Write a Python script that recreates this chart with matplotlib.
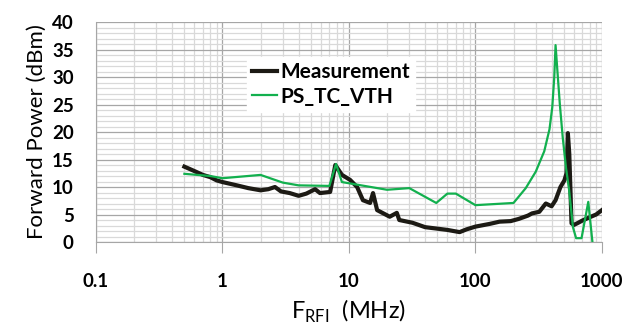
import numpy as np
import matplotlib.pyplot as plt
from matplotlib.ticker import LogLocator, MultipleLocator, FixedLocator, FixedFormatter

# measured forward power (MHz, dBm)
meas_f = [0.5, 0.6, 0.7, 0.8, 0.9, 1.0, 1.3, 1.6, 2.0, 2.3, 2.6, 2.9, 3.4, 4.0, 4.6,
          5.4, 5.9, 7.1, 7.8, 8.8, 10.2, 11.6, 12.9, 14.7, 15.5, 16.7, 21, 23.9, 25,
          31.8, 40, 60, 75, 85, 100, 130, 155, 190, 220, 260, 280, 320, 360, 400,
          430, 470, 505, 525, 538, 552, 575, 600, 650, 700, 800, 900, 1000]
meas_p = [13.7, 12.9, 12.2, 11.8, 11.2, 10.9, 10.3, 9.8, 9.4, 9.6, 10.0, 9.2, 8.9, 8.4, 8.8,
          9.6, 8.9, 9.1, 14.0, 12.2, 11.3, 10.0, 7.6, 7.1, 8.9, 5.8, 4.6, 5.3, 4.0,
          3.5, 2.7, 2.2, 1.8, 2.3, 2.8, 3.3, 3.7, 3.8, 4.2, 4.8, 5.2, 5.5, 7.0, 6.5,
          7.6, 10.0, 11.2, 12.5, 19.8, 16.0, 3.4, 3.1, 3.5, 3.9, 4.5, 5.0, 5.8]

# simulated PS_TC_VTH
sim_f = [0.5, 0.8, 1.0, 2.0, 3.0, 4.0, 7.0, 7.9, 8.8, 20, 30, 49, 60, 70, 100, 200,
         250, 300, 350, 385, 405, 420, 430, 445, 465, 490, 520, 550, 590, 625, 690, 780, 850]
sim_p = [12.4, 12.0, 11.6, 12.2, 10.8, 10.3, 10.2, 14.2, 10.9, 9.5, 9.8, 7.1, 8.8, 8.8, 6.7, 7.1,
         9.8, 12.8, 16.5, 20.5, 24.5, 30.0, 35.8, 31.0, 25.0, 19.0, 13.5, 9.5, 2.7, 0.7, 0.7, 7.3, -1.0]

fig = plt.figure(figsize=(6.34, 3.29), dpi=100)
ax = fig.add_axes([0.1514, 0.2644, 0.798, 0.6687])

ax.plot(meas_f, meas_p, color='#1c1a14', lw=3.0, label='Measurement', zorder=3)
ax.plot(sim_f, sim_p, color='#12b04e', lw=1.6, label='PS_TC_VTH', zorder=4)

ax.set_xscale('log')
ax.set_xlim(0.1, 1000)
ax.set_ylim(0, 40)

ax.xaxis.set_major_locator(FixedLocator([0.1, 1, 10, 100, 1000]))
ax.xaxis.set_major_formatter(FixedFormatter(['0.1', '1', '10', '100', '1000']))
ax.xaxis.set_minor_locator(LogLocator(base=10, subs=np.arange(2, 10)))
ax.yaxis.set_major_locator(MultipleLocator(5))
ax.yaxis.set_minor_locator(MultipleLocator(1))

ax.grid(True, which='major', color='#a6a6a6', lw=0.9)
ax.grid(True, which='minor', color='#d9d9d9', lw=0.9)
ax.set_axisbelow(True)

for s in ['top', 'right']:
    ax.spines[s].set_visible(False)
for s in ['left', 'bottom']:
    ax.spines[s].set_color('#a6a6a6')

ax.tick_params(axis='x', which='major', length=8, color='#a6a6a6', pad=14)
ax.tick_params(axis='x', which='minor', length=0)
ax.tick_params(axis='y', which='both', length=0, pad=16)
for lab in ax.get_xticklabels() + ax.get_yticklabels():
    lab.set_fontfamily('Lato')
    lab.set_fontweight('bold')
    lab.set_fontsize(13.5)

ax.set_ylabel('Forward Power (dBm)', fontfamily='Lato', fontsize=16, labelpad=4)
ax.set_xlabel(r'F$_{\mathregular{RFI}}$  (MHz)', fontfamily='Lato', fontsize=17, labelpad=6)

leg = ax.legend(loc='upper left', bbox_to_anchor=(0.298, 0.84), frameon=True,
                fancybox=False, edgecolor='white', framealpha=1,
                prop={'family': 'Lato', 'weight': 'bold', 'size': 15},
                handlelength=1.2, handletextpad=0.15, labelspacing=0.2,
                borderpad=0.25, borderaxespad=0)

fig.savefig('out.png', dpi=100)
